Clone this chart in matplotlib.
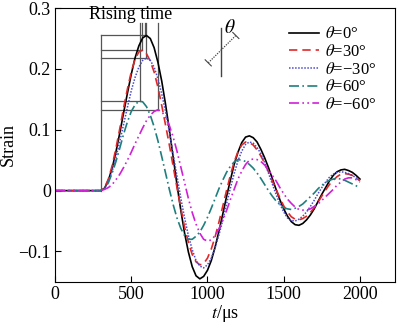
import numpy as np
import matplotlib
matplotlib.use("Agg")
import matplotlib.pyplot as plt

plt.rcParams['font.family'] = ['Liberation Serif', 'DejaVu Serif']
plt.rcParams['mathtext.fontset'] = 'stix'

# time axis (us), sampled every 25 us
t = np.arange(0, 2001, 25)
flat = [0] * 13   # 0..300 us, before the wave arrives

# strain, 325..2000 us
s_0 = flat + [
    0.004, 0.017, 0.037, 0.064, 0.095, 0.128, 0.160, 0.191,
    0.218, 0.238, 0.251, 0.255, 0.250, 0.235, 0.211, 0.180,
    0.142, 0.100, 0.055, 0.010, -0.032, -0.070, -0.101, -0.125,
    -0.140, -0.145, -0.141, -0.131, -0.115, -0.093, -0.067, -0.039,
    -0.010, 0.017, 0.043, 0.063, 0.079, 0.088, 0.090, 0.087,
    0.080, 0.068, 0.054, 0.038, 0.020, 0.002, -0.015, -0.030,
    -0.042, -0.051, -0.056, -0.057, -0.054, -0.048, -0.040, -0.030,
    -0.018, -0.006, 0.005, 0.016, 0.025, 0.031, 0.034, 0.035,
    0.033, 0.030, 0.025, 0.019]
s_30 = flat + [
    0.005, 0.019, 0.041, 0.070, 0.102, 0.136, 0.167, 0.195,
    0.216, 0.228, 0.231, 0.225, 0.213, 0.195, 0.170, 0.140,
    0.108, 0.075, 0.040, 0.005, -0.028, -0.060, -0.085, -0.105,
    -0.117, -0.122, -0.120, -0.111, -0.096, -0.076, -0.052, -0.026,
    0.000, 0.025, 0.047, 0.064, 0.075, 0.080, 0.079, 0.075,
    0.067, 0.057, 0.045, 0.031, 0.016, 0.002, -0.012, -0.025,
    -0.035, -0.043, -0.047, -0.048, -0.046, -0.042, -0.036, -0.028,
    -0.019, -0.009, 0.001, 0.010, 0.017, 0.023, 0.027, 0.028,
    0.027, 0.025, 0.021, 0.016]
s_m30 = flat + [
    0.004, 0.015, 0.032, 0.055, 0.081, 0.109, 0.137, 0.164,
    0.186, 0.203, 0.214, 0.218, 0.214, 0.203, 0.184, 0.159,
    0.130, 0.096, 0.060, 0.024, -0.012, -0.045, -0.074, -0.097,
    -0.115, -0.124, -0.127, -0.122, -0.111, -0.094, -0.073, -0.049,
    -0.022, 0.004, 0.028, 0.049, 0.065, 0.076, 0.080, 0.078,
    0.071, 0.061, 0.046, 0.029, 0.011, -0.006, -0.022, -0.035,
    -0.045, -0.049, -0.050, -0.047, -0.042, -0.035, -0.026, -0.016,
    -0.005, 0.005, 0.014, 0.022, 0.027, 0.030, 0.031, 0.030,
    0.028, 0.025, 0.021, 0.017]
s_60 = flat + [
    0.003, 0.013, 0.029, 0.048, 0.070, 0.093, 0.113, 0.130,
    0.141, 0.147, 0.146, 0.138, 0.124, 0.105, 0.082, 0.056,
    0.029, 0.002, -0.023, -0.045, -0.062, -0.074, -0.080, -0.080,
    -0.075, -0.068, -0.057, -0.044, -0.029, -0.013, 0.003, 0.017,
    0.030, 0.040, 0.047, 0.051, 0.050, 0.048, 0.043, 0.037,
    0.029, 0.020, 0.010, 0.000, -0.009, -0.017, -0.023, -0.028,
    -0.030, -0.031, -0.029, -0.026, -0.022, -0.016, -0.010, -0.004,
    0.003, 0.009, 0.013, 0.017, 0.019, 0.020, 0.019, 0.017,
    0.014, 0.011, 0.008, 0.004]
s_m60 = flat + [
    0.002, 0.005, 0.010, 0.018, 0.027, 0.038, 0.050, 0.063,
    0.077, 0.090, 0.103, 0.115, 0.124, 0.130, 0.133, 0.130,
    0.121, 0.107, 0.088, 0.065, 0.039, 0.013, -0.013, -0.036,
    -0.055, -0.070, -0.080, -0.083, -0.081, -0.074, -0.063, -0.049,
    -0.033, -0.015, 0.002, 0.019, 0.032, 0.043, 0.050, 0.052,
    0.051, 0.048, 0.042, 0.034, 0.025, 0.016, 0.005, -0.005,
    -0.014, -0.021, -0.027, -0.031, -0.032, -0.032, -0.030, -0.026,
    -0.022, -0.016, -0.010, -0.004, 0.002, 0.009, 0.014, 0.019,
    0.021, 0.021, 0.018, 0.014]

labels = [r'$\theta$=0°', r'$\theta$=30°', r'$\theta$=−30°', r'$\theta$=60°', r'$\theta$=−60°']

# rising time marks: start time and peak (time, strain) of each curve
t_start = 300
peak_t = [590, 570, 600, 557, 677]
peak_s = [0.256, 0.231, 0.218, 0.147, 0.133]

fig = plt.figure(figsize=(4, 3.24), dpi=100)
ax = fig.add_axes([0.1375, 0.13, 0.85, 0.845])

# rising time guide lines
gray = '#555555'
ax.plot([t_start, t_start], [0, max(peak_s)], color=gray, lw=0.9)
for pt, ps in zip(peak_t, peak_s):
    ax.plot([t_start, pt], [ps, ps], color=gray, lw=0.9)
    ax.plot([pt, pt], [ps, 0.275], color=gray, lw=0.9)
ax.text(495, 0.282, 'Rising time', ha='center', va='baseline', fontsize=13)

ax.plot(t, s_0, color='black', lw=1.2, label=labels[0])
ax.plot(t, s_30, color='#e02828', lw=1.2, ls=(0, (5, 3)), label=labels[1])
ax.plot(t, s_m30, color='#4a4ad0', lw=1.1, ls=(0, (1, 1)), label=labels[2])
ax.plot(t, s_60, color='#1f7f7f', lw=1.2, ls=(0, (6, 2, 1, 2)), label=labels[3])
ax.plot(t, s_m60, color='#d020d8', lw=1.2, ls=(0, (6, 2, 1, 2, 1, 2)), label=labels[4])

# theta sketch
ax.plot([1086, 1086], [0.189, 0.267], color='#444444', lw=1.0)
ax.plot([1005, 1186], [0.210, 0.255], color='#444444', lw=0.9, ls=(0, (1, 1)))
ax.plot([985, 1025], [0.215, 0.205], color='#444444', lw=0.8)
ax.plot([1166, 1206], [0.260, 0.250], color='#444444', lw=0.8)
ax.text(1110, 0.259, r'$\theta$', fontsize=14, va='baseline')

ax.set_xlim(0, 2230)
ax.set_ylim(-0.15, 0.3)
ax.set_xticks([0, 500, 1000, 1500, 2000])
ax.set_xticklabels(['0', '500', '1000', '1500', '2000'])
ax.set_yticks([-0.1, 0, 0.1, 0.2, 0.3])
ax.set_yticklabels(['−0.1', '0', '0.1', '0.2', '0.3'])
ax.tick_params(direction='in', length=4, labelsize=13, pad=3)
ax.set_xlabel(r'$t$/μs', fontsize=13, labelpad=0)
ax.set_ylabel('Strain', fontsize=13, labelpad=1)

ax.legend(loc='upper right', frameon=False, fontsize=12, handlelength=1.8,
          labelspacing=0.1, borderaxespad=0.7, handletextpad=0.4,
          borderpad=0.4)

fig.savefig('out.png', dpi=100)
